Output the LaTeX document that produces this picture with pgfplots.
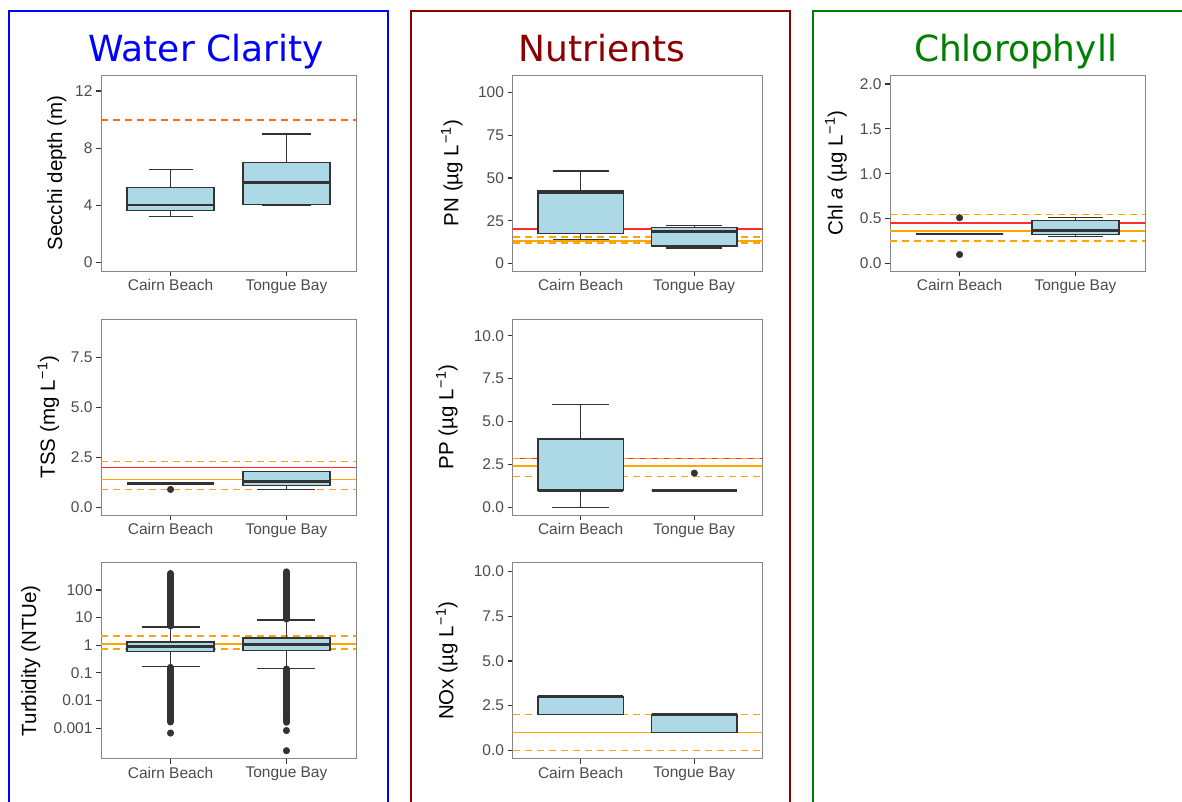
\documentclass[border=0pt]{standalone}
\usepackage{fontspec}
\setmainfont{Liberation Sans}
\newfontfamily\titlefont{DejaVu Sans}
\usepackage{pgfplots}
\pgfplotsset{compat=1.18}
\usepgfplotslibrary{statistics}
\definecolor{lightblue}{HTML}{ADD8E6}
\definecolor{boxline}{HTML}{333333}
\definecolor{refred}{HTML}{FF2A2A}
\definecolor{reforange}{HTML}{FFA500}
\definecolor{secchiline}{HTML}{FF6A1A}
\definecolor{darkred}{HTML}{8B0000}
\definecolor{dgreen}{HTML}{008000}
\definecolor{framegray}{HTML}{858585}
\pgfplotsset{
  panel/.style={
    scale only axis, anchor=north west,
    height=196pt,
    xmin=0.4, xmax=2.6, xtick={1,2}, xticklabels={Cairn Beach,Tongue Bay},
    axis line style={draw=framegray, line width=0.9pt},
    tick align=outside, tick pos=left,
    major tick length=5pt,
    every tick/.style={draw=boxline, line width=1.1pt},
    ticklabel style={font=\fontsize{15.5}{18}\selectfont, text=black!70},
    ylabel style={font=\fontsize{20.5}{24}\selectfont, text=black, anchor=center},
    boxplot/draw direction=y,
    boxplot/every median/.style={line width=2.8pt},
  },
  rred/.style={draw=refred, line width=1.6pt, solid, mark=none},
  rorange/.style={draw=reforange, line width=1.6pt, solid, mark=none},
  rdash/.style={draw=reforange, line width=1.6pt, dash pattern=on 7pt off 5pt, mark=none},
  bx/.style={boxplot prepared={draw direction=y, #1}, draw=boxline, fill=lightblue, line width=1.4pt, solid},
  outl/.style={only marks, mark=*, mark size=3.3pt, draw=boxline, fill=boxline},
}
\begin{document}
\begin{tikzpicture}
\useasboundingbox (0pt,0pt) rectangle (1182pt,-801pt);
% group frames
\draw[blue, line width=2pt] (9pt,-11pt) rectangle (388pt,-830pt);
\draw[darkred, line width=2pt] (410.5pt,-11pt) rectangle (789.5pt,-830pt);
\draw[dgreen, line width=2pt] (813pt,-11pt) rectangle (1220pt,-830pt);
% group titles
\node[anchor=base, font=\titlefont\fontsize{36}{40}\selectfont, text=blue] at (206pt,-61pt) {Water Clarity};
\node[anchor=base, font=\titlefont\fontsize{36}{40}\selectfont, text=darkred] at (602pt,-61pt) {Nutrients};
\node[anchor=base, font=\titlefont\fontsize{36}{40}\selectfont, text=dgreen] at (1015.5pt,-61pt) {Chlorophyll};

% ---------------- Secchi depth
\begin{axis}[panel, at={(101pt,-75pt)}, width=255pt,
  ymin=-0.625, ymax=13.125, ytick={0,4,8,12}, yticklabels={0,4,8,12},
  ylabel={Secchi depth (m)}, ylabel style={at={(axis description cs:-0.173,0.5)}}]
\addplot[draw=secchiline, line width=1.9pt, dash pattern=on 7pt off 5pt] coordinates {(0.3,10) (2.7,10)};
\addplot[bx={draw position=1, lower whisker=3.2, lower quartile=3.6, median=4.0, upper quartile=5.25, upper whisker=6.5, box extend=0.75, whisker extend=0.38}] coordinates {};
\addplot[bx={draw position=2, lower whisker=3.98, lower quartile=4.02, median=5.6, upper quartile=7.0, upper whisker=9.0, box extend=0.75, whisker extend=0.42}] coordinates {};
\end{axis}

% ---------------- TSS
\begin{axis}[panel, at={(101pt,-319pt)}, width=255pt,
  ymin=-0.38, ymax=9.43, ytick={0,2.5,5,7.5}, yticklabels={0.0,2.5,5.0,7.5},
  ylabel={TSS (mg L\kern1pt\textsuperscript{−1})}, ylabel style={at={(axis description cs:-0.207,0.5)}}]
\addplot[rred] coordinates {(0.3,2.0) (2.7,2.0)};
\addplot[rorange] coordinates {(0.3,1.4) (2.7,1.4)};
\addplot[rdash] coordinates {(0.3,2.3) (2.7,2.3)};
\addplot[rdash] coordinates {(0.3,0.9) (2.7,0.9)};
\addplot[bx={draw position=1, lower whisker=1.2, lower quartile=1.2, median=1.2, upper quartile=1.2, upper whisker=1.2, box extend=0.75, whisker extend=0.5}] coordinates {};
\addplot[bx={draw position=2, lower whisker=0.9, lower quartile=1.1, median=1.3, upper quartile=1.8, upper whisker=1.8, box extend=0.75, whisker extend=0.5}] coordinates {};
\addplot[outl] coordinates {(1,0.9)};
\end{axis}

% ---------------- Turbidity (values are log10 of NTUe)
\begin{axis}[panel, at={(101pt,-562.7pt)}, width=255pt,
  ymin=-4.11, ymax=2.99, ytick={-3,-2,-1,0,1,2}, yticklabels={0.001,0.01,0.1,1,10,100},
  ylabel={Turbidity (NTUe)}, ylabel style={at={(axis description cs:-0.275,0.5)}}]
\addplot[rorange] coordinates {(0.3,0.05) (2.7,0.05)};
\addplot[rdash] coordinates {(0.3,0.33) (2.7,0.33)};
\addplot[rdash] coordinates {(0.3,-0.145) (2.7,-0.145)};
% dense outlier columns
\addplot[draw=boxline, line width=7pt, line cap=round] coordinates {(1,0.70) (1,2.60)};
\addplot[draw=boxline, line width=7pt, line cap=round] coordinates {(1,-0.80) (1,-2.78)};
\addplot[draw=boxline, line width=7pt, line cap=round] coordinates {(2,0.95) (2,2.66)};
\addplot[draw=boxline, line width=7pt, line cap=round] coordinates {(2,-0.86) (2,-2.79)};
\addplot[outl] coordinates {(1,-3.18) (1,-2.62) (2,-3.09) (2,-3.82) (2,-2.70)};
\addplot[bx={draw position=1, lower whisker=-0.77, lower quartile=-0.23, median=-0.05, upper quartile=0.12, upper whisker=0.66, box extend=0.75, whisker extend=0.5}] coordinates {};
\addplot[bx={draw position=2, lower whisker=-0.84, lower quartile=-0.20, median=0.04, upper quartile=0.26, upper whisker=0.91, box extend=0.75, whisker extend=0.5}] coordinates {};
\end{axis}

% ---------------- PN
\begin{axis}[panel, at={(512.5pt,-75pt)}, width=250pt,
  ymin=-4.3, ymax=110.1, ytick={0,25,50,75,100}, yticklabels={0,25,50,75,100},
  ylabel={PN (µg L\kern1pt\textsuperscript{−1})}, ylabel style={at={(axis description cs:-0.243,0.5)}}]
\addplot[rred] coordinates {(0.3,20.2) (2.7,20.2)};
\addplot[rdash] coordinates {(0.3,15.6) (2.7,15.6)};
\addplot[rorange] coordinates {(0.3,13.2) (2.7,13.2)};
\addplot[rdash, line width=2.2pt] coordinates {(0.3,12.3) (2.7,12.3)};
\addplot[bx={draw position=1, lower whisker=14, lower quartile=17.5, median=41.3, upper quartile=42.3, upper whisker=54, box extend=0.75, whisker extend=0.49}] coordinates {};
\addplot[bx={draw position=2, lower whisker=9.1, lower quartile=10.3, median=18.9, upper quartile=21, upper whisker=22.2, box extend=0.75, whisker extend=0.49}] coordinates {};
\end{axis}

% ---------------- PP
\begin{axis}[panel, at={(512.5pt,-319pt)}, width=250pt,
  ymin=-0.44, ymax=10.98, ytick={0,2.5,5,7.5,10}, yticklabels={0.0,2.5,5.0,7.5,10.0},
  ylabel={PP (µg L\kern1pt\textsuperscript{−1})}, ylabel style={at={(axis description cs:-0.263,0.5)}}]
\addplot[rred] coordinates {(0.3,2.85) (2.7,2.85)};
\addplot[rdash] coordinates {(0.3,2.85) (2.7,2.85)};
\addplot[rorange] coordinates {(0.3,2.42) (2.7,2.42)};
\addplot[rdash] coordinates {(0.3,1.8) (2.7,1.8)};
\addplot[bx={draw position=1, lower whisker=0, lower quartile=1.0, median=1.0, upper quartile=4.0, upper whisker=6.0, box extend=0.75, whisker extend=0.5}] coordinates {};
\addplot[bx={draw position=2, lower whisker=1.0, lower quartile=1.0, median=1.0, upper quartile=1.0, upper whisker=1.0, box extend=0.75, whisker extend=0.5}] coordinates {};
\addplot[outl] coordinates {(2,2.0)};
\end{axis}

% ---------------- NOx
\begin{axis}[panel, at={(512.5pt,-562.7pt)}, width=250pt,
  ymin=-0.47, ymax=10.5, ytick={0,2.5,5,7.5,10}, yticklabels={0.0,2.5,5.0,7.5,10.0},
  ylabel={NOx (µg L\kern1pt\textsuperscript{−1})}, ylabel style={at={(axis description cs:-0.263,0.5)}}]
\addplot[rdash] coordinates {(0.3,2.0) (2.7,2.0)};
\addplot[rdash] coordinates {(0.3,0.0) (2.7,0.0)};
\addplot[rorange] coordinates {(0.3,1.0) (2.7,1.0)};
\addplot[bx={draw position=1, lower whisker=2, lower quartile=2, median=3, upper quartile=3, upper whisker=3, box extend=0.75, whisker extend=0.5}] coordinates {};
\addplot[bx={draw position=2, lower whisker=1, lower quartile=1, median=2, upper quartile=2, upper whisker=2, box extend=0.75, whisker extend=0.5}] coordinates {};
\end{axis}

% ---------------- Chl a
\begin{axis}[panel, at={(890pt,-75pt)}, width=255pt,
  ymin=-0.083, ymax=2.1, ytick={0,0.5,1,1.5,2}, yticklabels={0.0,0.5,1.0,1.5,2.0},
  ylabel={Chl \textit{a} (µg L\kern1pt\textsuperscript{−1})}, ylabel style={at={(axis description cs:-0.212,0.5)}}]
\addplot[rdash] coordinates {(0.3,0.545) (2.7,0.545)};
\addplot[rred] coordinates {(0.3,0.45) (2.7,0.45)};
\addplot[rorange] coordinates {(0.3,0.36) (2.7,0.36)};
\addplot[rdash] coordinates {(0.3,0.25) (2.7,0.25)};
\addplot[bx={draw position=1, lower whisker=0.33, lower quartile=0.33, median=0.33, upper quartile=0.33, upper whisker=0.33, box extend=0.75, whisker extend=0.5}] coordinates {};
\addplot[bx={draw position=2, lower whisker=0.30, lower quartile=0.325, median=0.365, upper quartile=0.48, upper whisker=0.51, box extend=0.75, whisker extend=0.48}] coordinates {};
\addplot[outl] coordinates {(1,0.51) (1,0.10)};
\end{axis}
\end{tikzpicture}
\end{document}
